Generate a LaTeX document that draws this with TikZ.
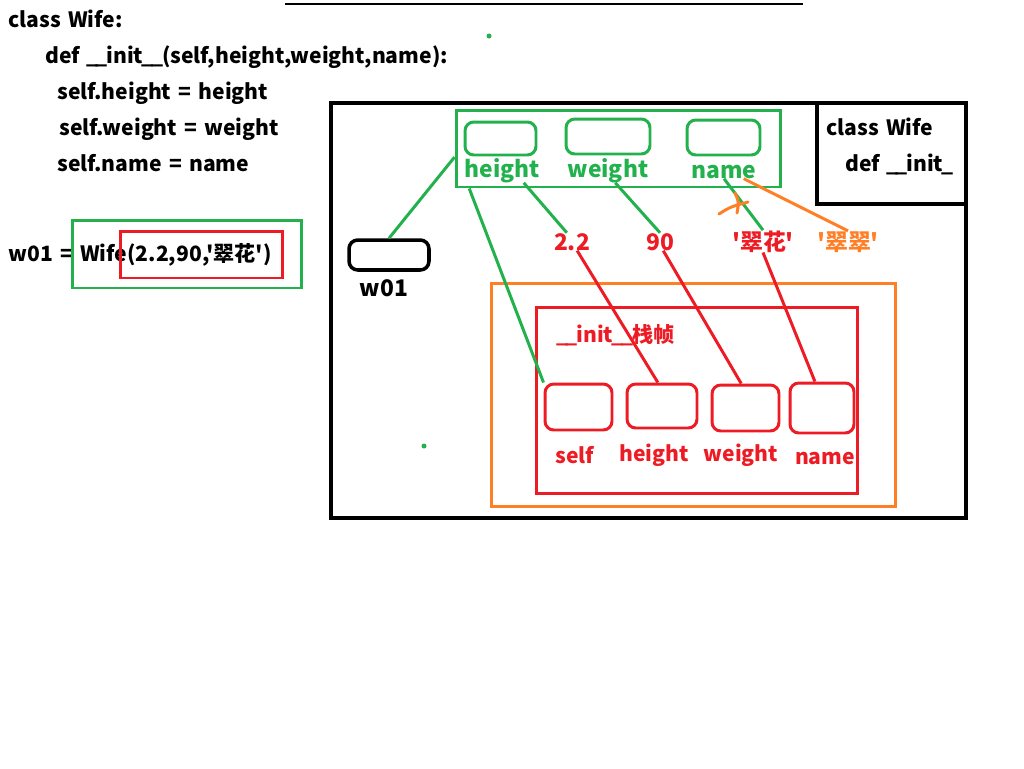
\documentclass[tikz,border=0pt]{standalone}
\usepackage{fontspec}
\newfontfamily\cjk[WordSpace=1.5]{Noto Sans CJK SC}
\usetikzlibrary{positioning}
\definecolor{pgreen}{RGB}{34,177,76}
\definecolor{pred}{RGB}{237,28,36}
\definecolor{porange}{RGB}{255,127,39}
\newcommand\us{\kern-0.06em\_\kern-0.06em}

\begin{document}
\begin{tikzpicture}[x=0.02cm,y=-0.02cm,
        code/.style={anchor=base west,inner sep=0pt,font=\cjk\bfseries\fontsize{12}{15}\selectfont},
        lbl/.style={anchor=base,inner sep=0pt,font=\cjk\bfseries\fontsize{13}{15}\selectfont},
        small/.style={lbl,font=\cjk\bfseries\fontsize{12}{14}\selectfont},
        slot/.style={draw,rounded corners=5pt,line width=1.7pt,inner sep=0pt},
        frame/.style={draw,line width=1.7pt,inner sep=0pt},
        wire/.style={line width=1.7pt}
    ]
    \useasboundingbox (0,0) rectangle (1024,768);
    \draw[line width=0.6pt] (285,4) -- (803,4);

    % source code
    \node[code] (c1) at (8,27) {class Wife:};
    \node[code] (c2) at (45,63) {def \us\us init\us\us(self,height,weight,name):};
    \node[code] (c3) at (57,99) {self.height = height};
    \node[code] (c4) at (59,135) {self.weight = weight};
    \node[code] (c5) at (57,171) {self.name = name};
    \node[code] (c6) at (8,261) {w01 = Wife(2.2,90,'翠花')};
    \node[frame,pgreen,minimum width=4.6cm,minimum height=1.36cm] (call) at (187,254) {};
    \node[frame,pred,minimum width=3.26cm,minimum height=0.94cm] (args) at (201.5,254.5) {};
    \fill[pgreen] (489,36) circle (2.5) (424,446) circle (2.5);

    % heap
    \node[frame,black,line width=2.3pt,minimum width=12.7cm,minimum height=8.3cm] (heap) at (648.5,310.5) {};
    \node[frame,black,line width=2.3pt,minimum width=2.98cm,minimum height=2.02cm] (cls) at (891.5,153.5) {};
    \node[code] (cl1) at (826,135) {class Wife};
    \node[code] (cl2) at (845,171) {def \us\us init\us};

    % instance object
    \node[frame,pgreen,minimum width=6.5cm,minimum height=1.54cm] (inst) at (618.5,148.5) {};
    \node[slot,pgreen,minimum width=1.42cm,minimum height=0.66cm] (ih) at (500.5,138.5) {};
    \node[slot,pgreen,minimum width=1.68cm,minimum height=0.7cm] (iw) at (608,136.5) {};
    \node[slot,pgreen,minimum width=1.46cm,minimum height=0.7cm] (in) at (723.5,137.5) {};
    \node[lbl,pgreen] (ilh) at (502,177) {height};
    \node[lbl,pgreen] (ilw) at (608,177) {weight};
    \node[lbl,pgreen] (iln) at (724,178) {name};

    \node[slot,black,line width=2pt,minimum width=1.6cm,minimum height=0.6cm] (w01) at (389,255) {};
    \node[lbl,black] (w01l) at (384,296) {w01};

    % values
    \node[lbl,pred] (v22) at (572,250) {2.2};
    \node[lbl,pred] (v90) at (660,250) {90};
    \node[lbl,pred] (vcf) at (763,250) {'翠花'};
    \node[lbl,porange] (vcc) at (848,250) {'翠翠'};

    % __init__ frame
    \node[frame,porange,minimum width=8.1cm,minimum height=4.48cm] (stack) at (693.5,395) {};
    \node[frame,pred,minimum width=6.44cm,minimum height=3.74cm] (fr) at (697,400.5) {};
    \node[code,pred] (frl) at (557,342) {\us\us init\us\us 栈帧};
    \node[slot,pred,minimum width=1.34cm,minimum height=0.92cm] (fs) at (578.5,407) {};
    \node[slot,pred,minimum width=1.4cm,minimum height=0.88cm] (fh) at (662,406) {};
    \node[slot,pred,minimum width=1.34cm,minimum height=0.92cm] (fw) at (745.5,408) {};
    \node[slot,pred,minimum width=1.28cm,minimum height=1cm] (fn) at (822,408) {};
    \node[small,pred] (fsl) at (575,463) {self};
    \node[small,pred] (fhl) at (654,461) {height};
    \node[small,pred] (fwl) at (741,461) {weight};
    \node[small,pred] (fnl) at (825,464) {name};

    % references
    \draw[wire,pgreen] (w01.north) -- (inst.183);
    \draw[wire,pgreen] (inst.195) -- (fs.north west);
    \draw[wire,pgreen] (ilh.-30) -- (v22.120);
    \draw[wire,pgreen] (ilw.-60) -- (v90.north);
    \draw[wire,pgreen] (iln.south) -- (vcf.north);
    \draw[wire,porange] (iln.-20) -- (vcc.north);
    \draw[wire,pred] (v22.-60) -- (fh.100);
    \draw[wire,pred] (v90.-70) -- (fw.100);
    \draw[wire,pred] (vcf.south) -- (fn.105);
    \draw[wire,porange,line cap=round] (719,214) .. controls (730,207) .. (748,202)
        (735,193) .. controls (739,202) .. (737,213);
\end{tikzpicture}
\end{document}
